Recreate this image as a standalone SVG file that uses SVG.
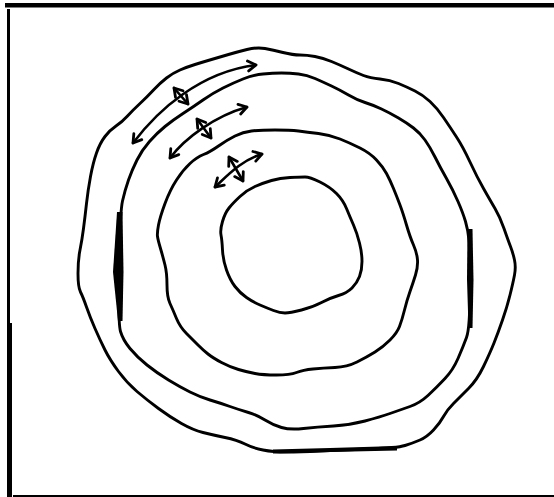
<svg xmlns="http://www.w3.org/2000/svg" width="554" height="497" viewBox="0 0 554 497">
<style>
.c{fill:none;stroke:#000;stroke-width:2.9;stroke-linejoin:round;stroke-linecap:round}
.a{fill:none;stroke:#000;stroke-width:2.6;stroke-linecap:round;marker-start:url(#h);marker-end:url(#h)}
.t{fill:#000}
</style>
<defs>
<marker id="h" viewBox="0 0 12 12" refX="10.5" refY="6" markerWidth="12" markerHeight="12" markerUnits="userSpaceOnUse" orient="auto-start-reverse" overflow="visible">
<path d="M2.5,1 L10.5,6 L2.5,11" fill="none" stroke="#000" stroke-width="2.8" stroke-linecap="round" stroke-linejoin="round"/>
</marker>
</defs>
<rect width="554" height="497" fill="#fff"/>
<g id="frame" class="t">
<rect x="5" y="3" width="549" height="4.5"/>
<rect x="7" y="9" width="3" height="314"/>
<rect x="7" y="323" width="5" height="174"/>
<rect x="13" y="495" width="541" height="2"/>
</g>
<g id="curves">
<path id="ring1" class="c" d="M265,48.5 Q273,50 283,52.5 Q293,55 300,55 Q307,55 315,56.5 Q323,58 331.5,61.5 Q340,65 348.5,69 Q357,73 363.5,75.5 Q370,78 380,79 Q390,80 398.5,83.5 Q407,87 415,91 Q423,95 430,101.5 Q437,108 443.5,117.5 Q450,127 456.5,137 Q463,147 470,162 Q477,177 483.5,188.5 Q490,200 495,208.5 Q500,217 504,228.5 Q508,240 510.5,246.5 Q513,253 514.5,260 Q516,267 514.5,275 Q513,283 510,295 Q507,307 502.5,320 Q498,333 494,343 Q490,353 483.5,366.5 Q477,380 468.5,388.5 Q460,397 453.5,403.5 Q447,410 443.5,416.5 Q440,423 433.5,430 Q427,437 420,440 Q413,443 405,445.5 Q397,448 368.5,449 Q340,450 320,451 Q300,452 286.5,452 Q273,452 263,450 Q253,448 245,444 Q237,440 225,437.5 Q213,435 203,432.5 Q193,430 181.5,423.5 Q170,417 158.5,408.5 Q147,400 137,391.5 Q127,383 118.5,371.5 Q110,360 105,350 Q100,340 95,328.5 Q90,317 86.5,307 Q83,297 80.5,292 Q78,287 78,273.5 Q78,260 80,250 Q82,240 83.5,228.5 Q85,217 86.5,203.5 Q88,190 90.5,176.5 Q93,163 96.5,153 Q100,143 105,136.5 Q110,130 116,126 Q122,122 127.5,116 Q133,110 140,103.5 Q147,97 153.5,90 Q160,83 166.5,78 Q173,73 180,70 Q187,67 195,64.5 Q203,62 211.5,59.5 Q220,57 228.5,54.5 Q237,52 247,49.5 Q257,47 265,48.5 Z"/>
<path id="ring2" class="c" d="M281.5,73 Q290,73 298.5,74 Q307,75 315,78.5 Q323,82 331.5,86 Q340,90 348.5,95 Q357,100 365,102.5 Q373,105 381.5,109 Q390,113 398.5,118 Q407,123 413.5,128 Q420,133 425,140 Q430,147 435,157 Q440,167 446.5,178.5 Q453,190 458,201.5 Q463,213 465.5,221.5 Q468,230 469,240 Q470,250 470,289 Q470,328 466.5,337.5 Q463,347 458,358.5 Q453,370 445,378.5 Q437,387 428.5,395 Q420,403 410,406.5 Q400,410 390,413.5 Q380,417 365,421 Q350,425 333.5,426 Q317,427 303.5,428.5 Q290,430 281.5,427.5 Q273,425 265,420 Q257,415 248.5,412.5 Q240,410 230,406.5 Q220,403 210,400 Q200,397 190,392 Q180,387 168.5,380 Q157,373 147,365 Q137,357 130,348.5 Q123,340 120.5,331.5 Q118,323 119,267.5 Q120,212 122.5,201 Q125,190 128.5,180 Q132,170 137,160 Q142,150 149.5,141.5 Q157,133 165,126.5 Q173,120 183,113.5 Q193,107 203,100 Q213,93 223,88 Q233,83 243,79 Q253,75 263,74 Q273,73 281.5,73 Z"/>
<path id="ring3" class="c" d="M275,130 Q290,130 298.5,131 Q307,132 318.5,133.5 Q330,135 340,139 Q350,143 360,148 Q370,153 376.5,160 Q383,167 386.5,173.5 Q390,180 393.5,188.5 Q397,197 400,205 Q403,213 406.5,225 Q410,237 413.5,245 Q417,253 417.5,260 Q418,267 415.5,275 Q413,283 410,291.5 Q407,300 404.5,310 Q402,320 399.5,326.5 Q397,333 390,340 Q383,347 375,352 Q367,357 357,362 Q347,367 335,367.5 Q323,368 313,369 Q303,370 296.5,372.5 Q290,375 276.5,375 Q263,375 255,373.5 Q247,372 238.5,369.5 Q230,367 221.5,362.5 Q213,358 208,354 Q203,350 198,345 Q193,340 186.5,333.5 Q180,327 176.5,318.5 Q173,310 170,303.5 Q167,297 167,285 Q167,273 165,265 Q163,257 160.5,248.5 Q158,240 157.5,236.5 Q157,233 158.5,225 Q160,217 165,203.5 Q170,190 176.5,180 Q183,170 190,163.5 Q197,157 203.5,154.5 Q210,152 218.5,146 Q227,140 235,136 Q243,132 251.5,131 Q260,130 275,130 Z"/>
<path id="ring4" class="c" d="M290,177.5 Q300,177 305,177 Q310,177 320,182 Q330,187 336.5,193.5 Q343,200 346.5,208.5 Q350,217 353.5,225 Q357,233 359.5,243 Q362,253 362,261.5 Q362,270 359.5,276.5 Q357,283 352,288 Q347,293 338.5,295.5 Q330,298 321.5,302.5 Q313,307 301.5,310 Q290,313 285,313 Q280,313 273.5,310.5 Q267,308 260,305 Q253,302 246.5,297.5 Q240,293 235,286.5 Q230,280 226.5,270 Q223,260 222.5,250 Q222,240 221,235 Q220,230 222.5,221.5 Q225,213 229,208 Q233,203 240,196.5 Q247,190 255,186.5 Q263,183 271.5,180.5 Q280,178 290,177.5 Z"/>
<polygon class="t" points="117,212 122.5,212 123.5,272 122.5,321 118,321 113,272"/>
<polygon class="t" points="467.5,229 472.5,229 473.5,280 472.5,328 468.5,328 467,280"/>
<polygon class="t" points="273,449.5 330,448 397,446 397,450.5 330,452 273,453.5"/>
</g>
<g id="connectors">
<path class="a" d="M133,143 C158,110 200,72 256,65"/>
<path class="a" d="M174,88 L188,104"/>
<path class="a" d="M170,158 C185,138 215,116 247,107"/>
<path class="a" d="M197,119 L211,138"/>
<path class="a" d="M215,187 C228,175 242,160 262,154"/>
<path class="a" d="M229,157 L243,181"/>
</g>
</svg>
